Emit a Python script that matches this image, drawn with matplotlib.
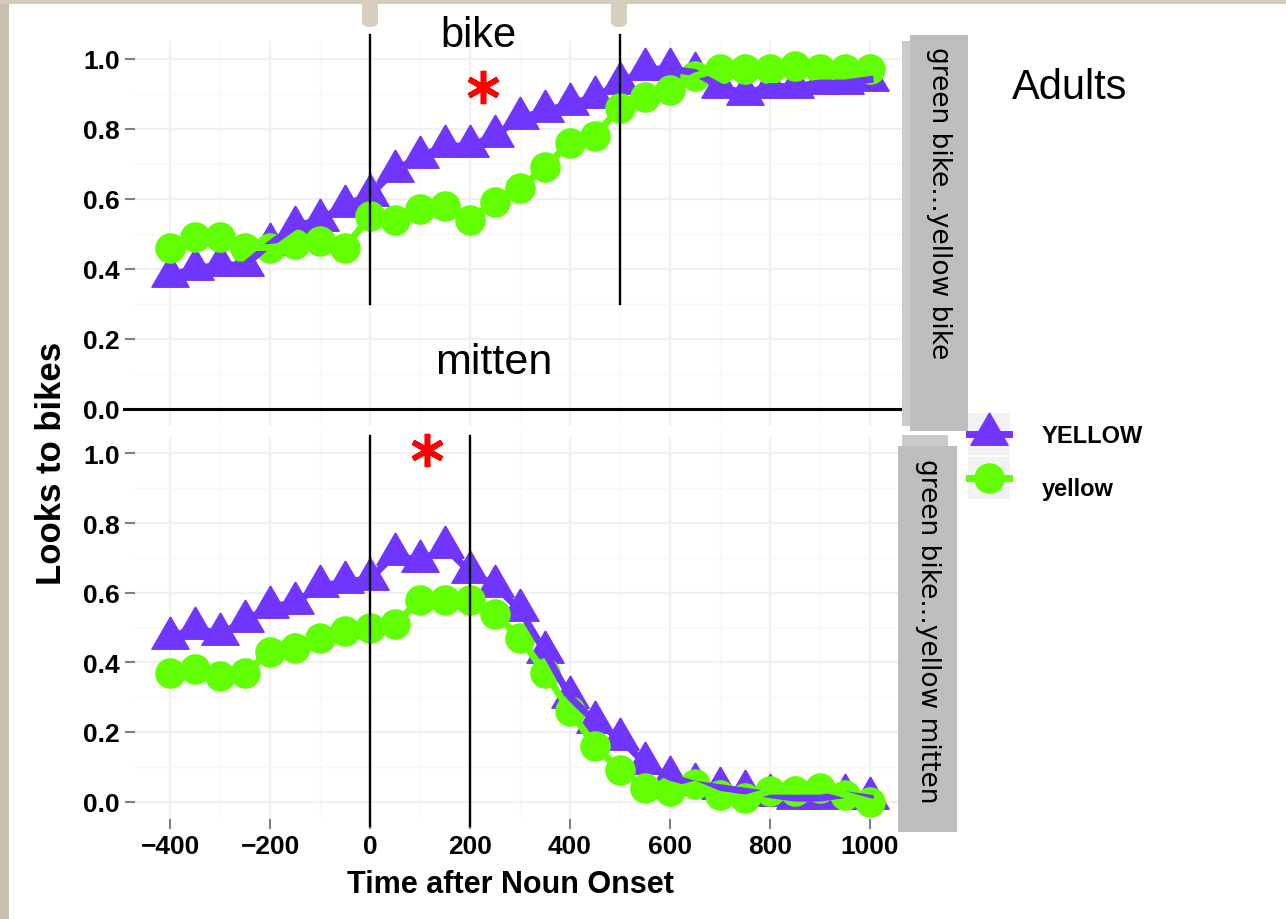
import matplotlib.pyplot as plt
from matplotlib.patches import Rectangle, FancyBboxPatch
from matplotlib.lines import Line2D
from matplotlib.ticker import FormatStrFormatter

# time bins (ms after noun onset)
time_ms = list(range(-400, 1001, 50))

# looks to bikes, "green bike...yellow bike" facet
bike_YELLOW = [0.38, 0.40, 0.41, 0.41, 0.47, 0.52, 0.54, 0.58, 0.61, 0.68, 0.72, 0.75, 0.75,
               0.78, 0.83, 0.85, 0.87, 0.89, 0.93, 0.97, 0.97, 0.96, 0.92, 0.90, 0.92, 0.92,
               0.93, 0.93, 0.94]
bike_yellow = [0.46, 0.49, 0.49, 0.46, 0.46, 0.47, 0.48, 0.46, 0.55, 0.54, 0.57, 0.58, 0.54,
               0.59, 0.63, 0.69, 0.76, 0.78, 0.86, 0.89, 0.91, 0.95, 0.97, 0.97, 0.97, 0.98,
               0.97, 0.97, 0.97]

# "green bike...yellow mitten" facet
mitten_YELLOW = [0.47, 0.50, 0.48, 0.52, 0.56, 0.57, 0.62, 0.63, 0.64, 0.71, 0.69, 0.73, 0.66,
                 0.62, 0.55, 0.43, 0.30, 0.23, 0.18, 0.11, 0.07, 0.05, 0.04, 0.03, 0.02, 0.01,
                 0.01, 0.02, 0.01]
mitten_yellow = [0.37, 0.38, 0.36, 0.37, 0.43, 0.44, 0.47, 0.49, 0.50, 0.51, 0.58, 0.58, 0.58,
                 0.54, 0.47, 0.37, 0.26, 0.16, 0.09, 0.04, 0.03, 0.05, 0.02, 0.01, 0.03, 0.03,
                 0.04, 0.02, 0.00]

series_names = ["YELLOW", "yellow"]
facet_labels = ["green bike...yellow bike", "green bike...yellow mitten"]
x_ticks = [-400, -200, 0, 200, 400, 600, 800, 1000]
y_ticks = [0.0, 0.2, 0.4, 0.6, 0.8, 1.0]
top_vlines = [0, 500]
bottom_vlines = [0, 200]

W, H = 1286, 920
purple = "#7036FF"
green = "#62FF00"
tri = [(0, 0.667), (-0.577, -0.333), (0.577, -0.333), (0, 0.667)]
TRI_MS = 31
DOT_MS = 21

plt.rcParams['font.family'] = ['Liberation Sans', 'DejaVu Sans']


def fx(x):
    return x / W


def fy(y):
    return 1 - y / H


def panel(top, bottom):
    return fig.add_axes([fx(135), fy(bottom), fx(905) - fx(135), (bottom - top) / H])


def setup(ax, show_x):
    ax.set_xlim(-470, 1070)
    ax.set_ylim(-0.05, 1.05)
    for s in ax.spines.values():
        s.set_visible(False)
    ax.set_xticks(x_ticks)
    ax.set_xticks([-300, -100, 100, 300, 500, 700, 900], minor=True)
    ax.set_yticks(y_ticks)
    ax.set_yticks([0.1, 0.3, 0.5, 0.7, 0.9], minor=True)
    ax.yaxis.set_major_formatter(FormatStrFormatter('%.1f'))
    ax.grid(which='major', color='#F0F0F0', lw=1.6)
    ax.grid(which='minor', color='#F7F7F7', lw=1.0)
    ax.set_axisbelow(True)
    ax.tick_params(which='minor', length=0)
    ax.tick_params(axis='y', length=7, width=1.5, color='#808080', labelsize=19, pad=4)
    for lab in ax.get_yticklabels():
        lab.set_fontweight('bold')
    if show_x:
        ax.tick_params(axis='x', length=7, width=1.5, color='#808080', labelsize=19, pad=4)
        for lab in ax.get_xticklabels():
            lab.set_fontweight('bold')
    else:
        ax.tick_params(axis='x', bottom=False, labelbottom=False)


def draw(ax, yl_big, yl_small):
    ax.plot(time_ms, yl_big, ls='none', marker=tri, ms=TRI_MS, color=purple, zorder=2)
    ax.plot(time_ms, yl_small, ls='none', marker='o', ms=DOT_MS, color=green, zorder=3)
    ax.plot(time_ms, yl_big, lw=5, color=purple, zorder=4)
    ax.plot(time_ms, yl_small, lw=5, color=green, zorder=5)


fig = plt.figure(figsize=(W / 100, H / 100), dpi=100)
fig.patch.set_facecolor('white')

ax1 = panel(42, 427)
ax2 = panel(437, 820)
setup(ax1, False)
setup(ax2, True)
draw(ax1, bike_YELLOW, bike_yellow)
draw(ax2, mitten_YELLOW, mitten_yellow)

# slide annotations
for v in top_vlines:
    ax1.plot([v, v], [0.30, 1.066], color='black', lw=1.7, clip_on=False, zorder=6)
for v in bottom_vlines:
    ax2.plot([v, v], [-0.07, 1.049], color='black', lw=1.7, clip_on=False, zorder=6)
ax1.plot([-492, 1066], [0, 0], color='black', lw=2.2, clip_on=False, zorder=6)
ax1.plot([226], [0.92], marker=(6, 2, 0), ms=24, mew=4, color='red', clip_on=False, zorder=7)
ax2.plot([114], [1.01], marker=(6, 2, 0), ms=24, mew=4, color='red', clip_on=False, zorder=7)

fig.text(fx(478), fy(36), "bike", ha='center', va='center', fontsize=30)
fig.text(fx(494), fy(363), "mitten", ha='center', va='center', fontsize=31)
fig.text(fx(1070), fy(88), "Adults", ha='center', va='center', fontsize=30)

fig.text(fx(52), fy(463), "Looks to bikes", rotation=90, ha='center', va='center',
         fontsize=25, fontweight='bold')
fig.text(fx(510), fy(885), "Time after Noun Onset", ha='center', va='center',
         fontsize=22, fontweight='bold')

# facet strips
def rect(x0, y0, x1, y1, color):
    fig.add_artist(Rectangle((fx(x0), fy(y1)), fx(x1) - fx(x0), (y1 - y0) / H,
                             transform=fig.transFigure, color=color, lw=0))

rect(902, 42, 912, 427, '#CACACA')
rect(910, 36, 968, 432, '#BEBEBE')
rect(902, 436, 948, 452, '#CACACA')
rect(898, 447, 957, 833, '#BEBEBE')
fig.text(fx(939), fy(203), facet_labels[0], rotation=270, ha='center', va='center',
         fontsize=19, family='DejaVu Sans')
fig.text(fx(928), fy(631), facet_labels[1], rotation=270, ha='center', va='center',
         fontsize=19, family='DejaVu Sans')

# legend
keys = [(435, tri, TRI_MS, purple), (479, 'o', DOT_MS, green)]
for (yc, mk, ms, col), name, ly in zip(keys, series_names, [437, 490]):
    rect(968, yc - 21, 1010, yc + 21, '#F2F2F2')
    fig.add_artist(Line2D([fx(969), fx(1009)], [fy(yc), fy(yc)], lw=5, color=col,
                          transform=fig.transFigure))
    fig.add_artist(Line2D([fx(989)], [fy(yc)], marker=mk, ms=ms, color=col, ls='none',
                          transform=fig.transFigure))
    fig.text(fx(1042), fy(ly), name, ha='left', va='center', fontsize=17, fontweight='bold')

# slide frame
rect(0, 0, 9, H, '#C6C0AC')
rect(0, 0, W, 5, '#D3CCB8')
for px in [370, 619]:
    fig.add_artist(FancyBboxPatch((fx(px - 8), fy(28)), 16 / W, 28 / H,
                                  boxstyle='round,pad=0,rounding_size=0.006',
                                  transform=fig.transFigure, color='#D6CFBF', lw=0))

fig.savefig("out.png", dpi=100)
